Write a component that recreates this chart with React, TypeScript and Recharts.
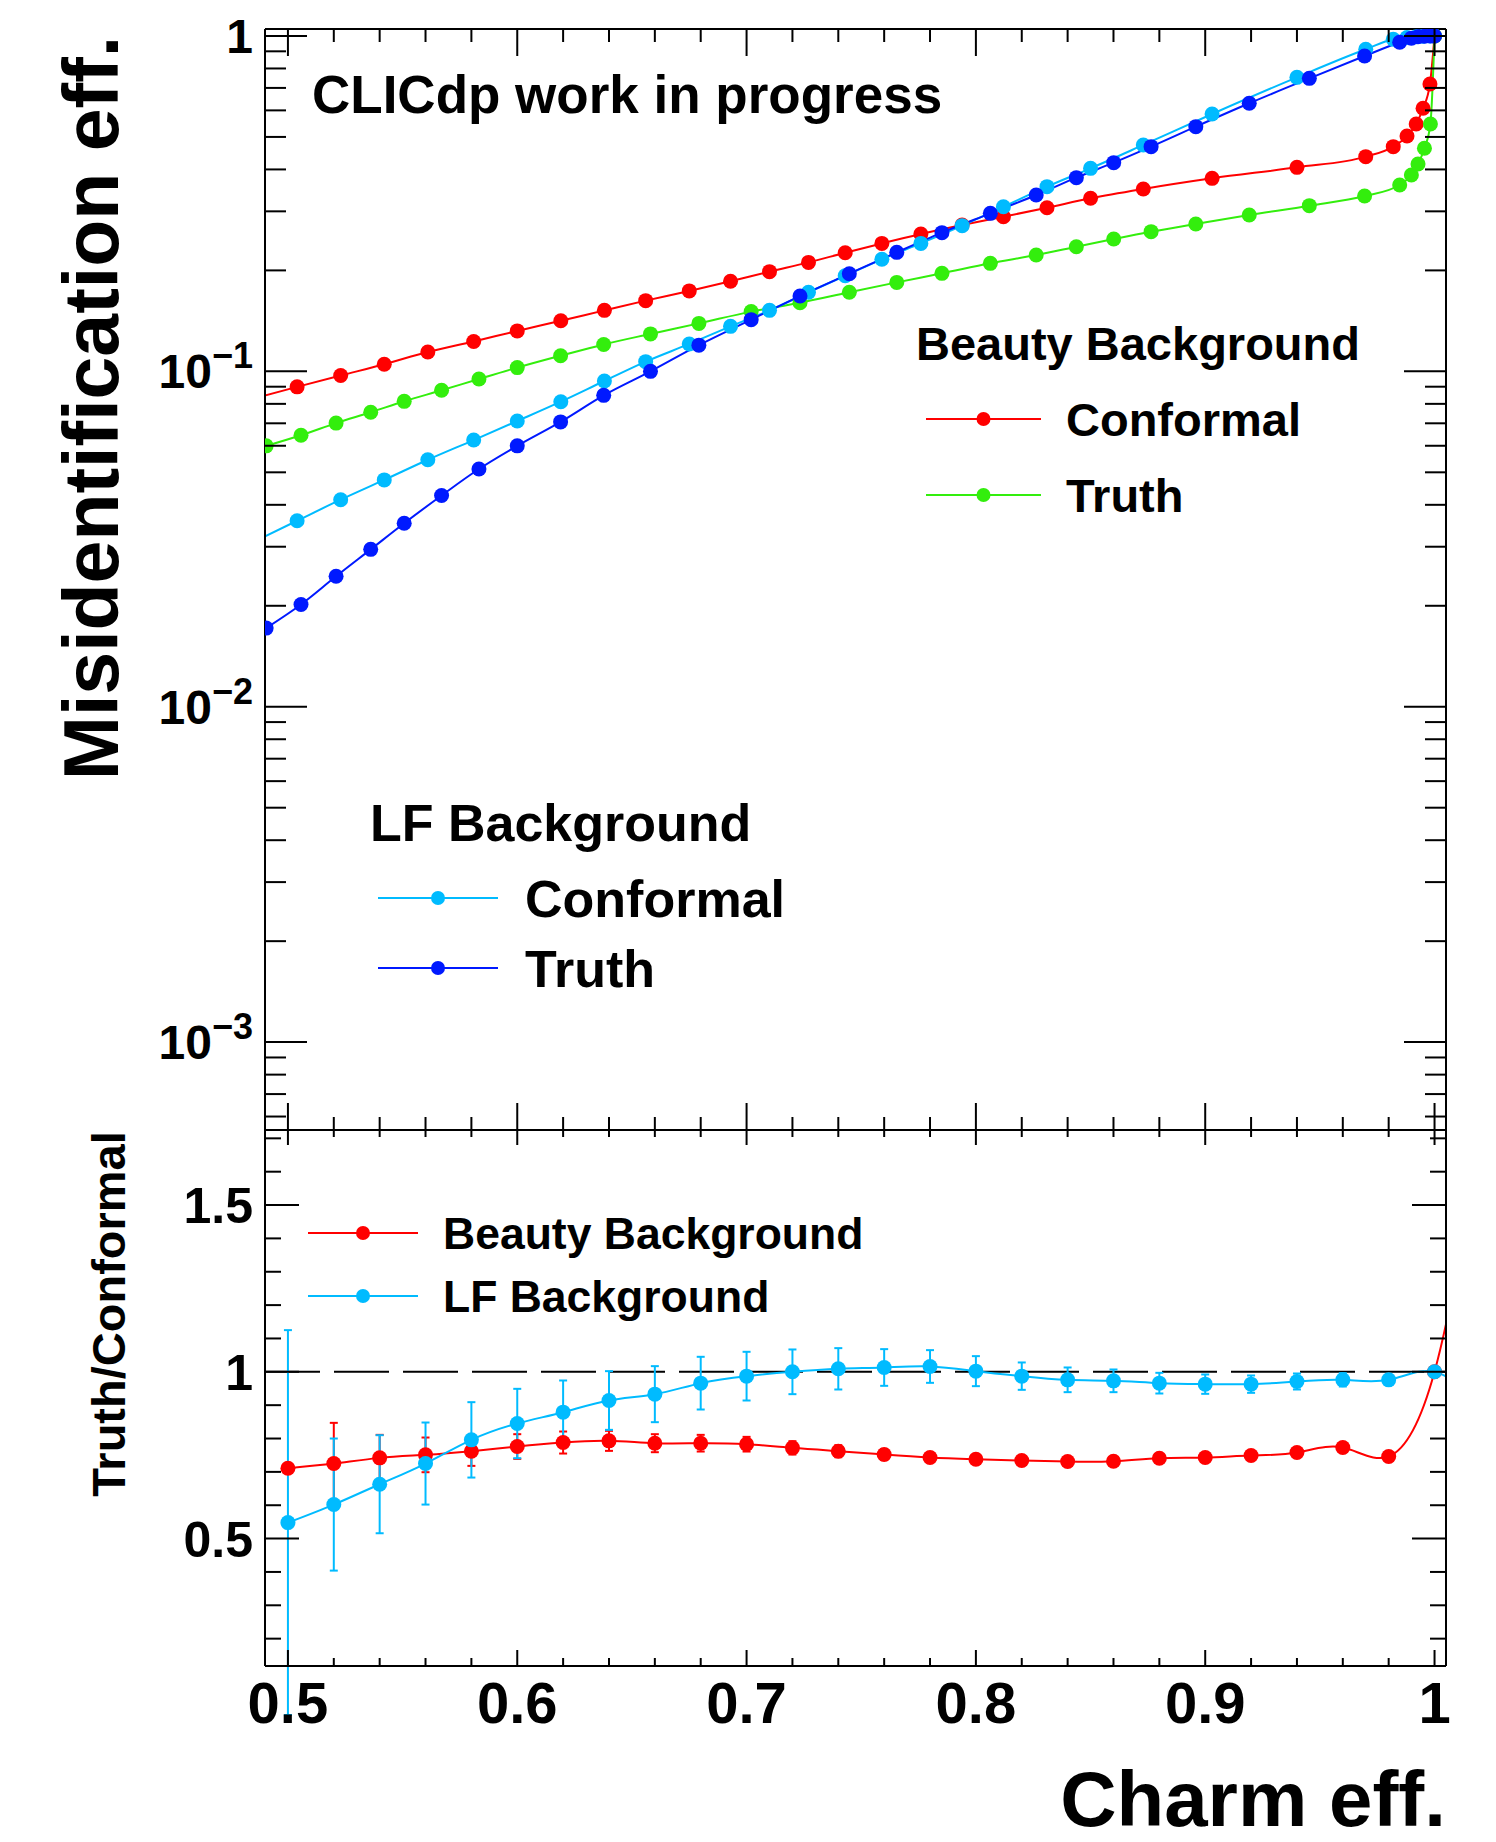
import React from 'react'
import { LineChart, Line, XAxis, YAxis, ErrorBar, ReferenceLine } from 'recharts'

const FONT = '"Liberation Sans", Arial, Helvetica, sans-serif'

// upper pad: misid. efficiency vs charm efficiency, conformal vertexing
const conformalEff = [0.485, 0.504, 0.523, 0.542, 0.561, 0.581, 0.6, 0.619, 0.638, 0.656, 0.675, 0.693, 0.71, 0.727, 0.743, 0.759, 0.776, 0.794, 0.812, 0.831, 0.85, 0.873, 0.903, 0.94, 0.97, 0.982, 0.988, 0.992, 0.995, 0.998, 1.0]
const beautyConformal = [0.083, 0.0899, 0.0972, 0.105, 0.1142, 0.1228, 0.132, 0.1415, 0.152, 0.1625, 0.1737, 0.1856, 0.1983, 0.2113, 0.2258, 0.2407, 0.2567, 0.2731, 0.2891, 0.3076, 0.3281, 0.3498, 0.3763, 0.4058, 0.4367, 0.4677, 0.503, 0.5465, 0.6086, 0.7194, 1.0]
const lfConformal = [0.031, 0.03585, 0.04143, 0.04746, 0.0545, 0.0624, 0.0711, 0.0812, 0.0936, 0.1069, 0.1207, 0.1362, 0.152, 0.1721, 0.1927, 0.2158, 0.2407, 0.2719, 0.3097, 0.3554, 0.403, 0.4732, 0.5853, 0.7527, 0.9126, 0.9774, 0.99, 0.995, 0.998, 1.0, 1.0]

// truth vertexing
const truthEff = [0.4905, 0.5057, 0.521, 0.5361, 0.5507, 0.567, 0.5833, 0.6, 0.6189, 0.6377, 0.6581, 0.6792, 0.702, 0.7233, 0.7448, 0.7655, 0.7852, 0.8063, 0.8263, 0.8438, 0.8601, 0.8764, 0.8959, 0.9192, 0.9454, 0.9695, 0.9848, 0.9899, 0.9928, 0.9956, 0.9982, 1.0]
const beautyTruth = [0.05996, 0.0645, 0.0701, 0.0755, 0.0814, 0.0878, 0.0949, 0.1026, 0.1113, 0.1203, 0.1293, 0.139, 0.1507, 0.1601, 0.1721, 0.1842, 0.196, 0.2099, 0.2223, 0.2353, 0.2481, 0.2609, 0.275, 0.2925, 0.3119, 0.3333, 0.3595, 0.385, 0.4151, 0.4624, 0.5465, 1.0]
const lfTruth = [0.01716, 0.02018, 0.02449, 0.02946, 0.03524, 0.04265, 0.05115, 0.05996, 0.07069, 0.0848, 0.1, 0.1197, 0.1426, 0.1677, 0.1955, 0.2264, 0.2592, 0.2959, 0.3355, 0.378, 0.419, 0.4677, 0.5366, 0.63, 0.7475, 0.8717, 0.9574, 0.985, 0.995, 0.998, 1.0, 1.0]

// lower pad: truth / conformal
const ratioEff = [0.5, 0.52, 0.54, 0.56, 0.58, 0.6, 0.62, 0.64, 0.66, 0.68, 0.7, 0.72, 0.74, 0.76, 0.78, 0.8, 0.82, 0.84, 0.86, 0.88, 0.9, 0.92, 0.94, 0.96, 0.98, 1.0, 1.02]
const beautyRatio = [0.711, 0.725, 0.742, 0.751, 0.762, 0.776, 0.788, 0.793, 0.786, 0.786, 0.783, 0.772, 0.762, 0.752, 0.743, 0.738, 0.734, 0.731, 0.732, 0.741, 0.743, 0.749, 0.758, 0.773, 0.746, 1.0, 1.7]
const beautyRatioErr = [0, 0.122, 0.069, 0.052, 0.044, 0.037, 0.033, 0.03, 0.027, 0.025, 0.022, 0.02, 0.018, 0.016, 0.013, 0.011, 0.01, 0.009, 0.008, 0.007, 0.006, 0.006, 0.005, 0.005, 0.004, 0, 0]
const lfRatio = [0.548, 0.602, 0.663, 0.725, 0.796, 0.845, 0.879, 0.914, 0.933, 0.966, 0.987, 1.0, 1.009, 1.013, 1.016, 1.002, 0.987, 0.976, 0.973, 0.966, 0.963, 0.963, 0.971, 0.976, 0.976, 1.0, 0.9]
const lfRatioErr = [0.577, 0.198, 0.147, 0.123, 0.113, 0.104, 0.095, 0.088, 0.084, 0.079, 0.073, 0.067, 0.062, 0.055, 0.049, 0.045, 0.041, 0.037, 0.034, 0.031, 0.029, 0.026, 0.024, 0.02, 0.015, 0.01, 0]

const xTicks = [0.5, 0.52, 0.54, 0.56, 0.58, 0.6, 0.62, 0.64, 0.66, 0.68, 0.7, 0.72, 0.74, 0.76, 0.78, 0.8, 0.82, 0.84, 0.86, 0.88, 0.9, 0.92, 0.94, 0.96, 0.98, 1.0]
const logTicks = [0.0006, 0.0007, 0.0008, 0.0009, 0.001, 0.002, 0.003, 0.004, 0.005, 0.006, 0.007, 0.008, 0.009, 0.01, 0.02, 0.03, 0.04, 0.05, 0.06, 0.07, 0.08, 0.09, 0.1, 0.2, 0.3, 0.4, 0.5, 0.6, 0.7, 0.8, 0.9, 1]
const ratioTicks = [0.2, 0.3, 0.4, 0.5, 0.6, 0.7, 0.8, 0.9, 1.0, 1.1, 1.2, 1.3, 1.4, 1.5, 1.6, 1.7]

const X_DOMAIN = [0.49, 1.005]
const LOG_DOMAIN = [0.000547, 1.049]
const RATIO_DOMAIN = [0.118, 1.725]

const RED = '#ff0000'
const GREEN = '#33ee0d'
const AZURE = '#00bbff'
const BLUE = '#0019ff'

const toPoints = (xs: number[], ys: number[]) => xs.map((x, i) => ({ x, y: ys[i] }))
const toRatio = (ys: number[], errs: number[]) => ratioEff.map((x, i) => ({ x, y: ys[i], err: errs[i] }))

const isMajorX = (v: number) => Math.round(v * 100) % 10 === 0
const isDecade = (v: number) => Math.abs(Math.log10(v) - Math.round(Math.log10(v))) < 1e-6
const isMajorRatio = (v: number) => Math.round(v * 10) % 5 === 0

const XTick = ({ x, y, payload, dir, major, minor, label }: any) => {
  const big = isMajorX(payload.value)
  return (
    <g>
      <line x1={x} x2={x} y1={y} y2={y + dir * (big ? major : minor)} stroke="#000" strokeWidth={2} />
      {label && big && (
        <text x={x} y={y + 57} textAnchor="middle" fontSize={58} fontWeight="bold" fontFamily={FONT} fill="#000">
          {payload.value === 1 ? '1' : payload.value.toFixed(1)}
        </text>
      )}
    </g>
  )
}

const LogTick = ({ x, y, payload, side }: any) => {
  const v = payload.value
  const big = isDecade(v)
  const e = Math.round(Math.log10(v))
  return (
    <g>
      <line x1={x} x2={x + side * (big ? 42 : 21)} y1={y} y2={y} stroke="#000" strokeWidth={2} />
      {side === 1 && big && (
        <text x={x - 12} y={y + 17} textAnchor="end" fontSize={48} fontWeight="bold" fontFamily={FONT} fill="#000">
          {e === 0 ? '1' : (
            <>
              <tspan>10</tspan>
              <tspan dy={-20} fontSize={36}>{`\u2212${-e}`}</tspan>
            </>
          )}
        </text>
      )}
    </g>
  )
}

const RatioTick = ({ x, y, payload, side }: any) => {
  const v = payload.value
  const big = isMajorRatio(v)
  return (
    <g>
      <line x1={x} x2={x + side * (big ? 34 : 16)} y1={y} y2={y} stroke="#000" strokeWidth={2} />
      {side === 1 && big && (
        <text x={x - 12} y={y + 18} textAnchor="end" fontSize={50} fontWeight="bold" fontFamily={FONT} fill="#000">
          {v === 1 ? '1' : v.toFixed(1)}
        </text>
      )}
    </g>
  )
}

const axisLine = { stroke: '#000', strokeWidth: 2 }

const LegendRow = ({ x1, x2, y, color, text, tx, fs }: any) => (
  <g>
    <line x1={x1} x2={x2} y1={y} y2={y} stroke={color} strokeWidth={2} />
    <circle cx={(x1 + x2) / 2} cy={y} r={7} fill={color} />
    <text x={tx} y={y + 0.358 * fs} fontSize={fs} fontWeight="bold" fontFamily={FONT} fill="#000">{text}</text>
  </g>
)

const seriesLine = (key: string, data: any[], color: string, type: any, children?: React.ReactNode) => (
  <Line
    key={key}
    xAxisId="b"
    yAxisId="l"
    data={data}
    dataKey="y"
    type={type}
    stroke={color}
    strokeWidth={2}
    dot={{ r: 7.5, fill: color, stroke: 'none' }}
    activeDot={false}
    isAnimationActive={false}
  >
    {children}
  </Line>
)

export default function App() {
  return (
    <div style={{ position: 'absolute', left: 0, top: 0, width: 1496, height: 1842, background: '#fff', fontFamily: FONT }}>
      <div style={{ position: 'absolute', left: 0, top: 0 }}>
        <LineChart width={1496} height={1140} margin={{ top: 0, right: 0, bottom: 0, left: 0 }}>
          <XAxis xAxisId="t" dataKey="x" orientation="top" type="number" domain={X_DOMAIN} allowDataOverflow height={29}
            ticks={xTicks} interval={0} tickSize={0} tickMargin={0} tickLine={false} axisLine={axisLine}
            tick={(p: any) => <XTick {...p} dir={1} major={27} minor={13} />} />
          <XAxis xAxisId="b" dataKey="x" orientation="bottom" type="number" domain={X_DOMAIN} allowDataOverflow height={10}
            ticks={xTicks} interval={0} tickSize={0} tickMargin={0} tickLine={false} axisLine={axisLine}
            tick={(p: any) => <XTick {...p} dir={-1} major={27} minor={13} />} />
          <YAxis yAxisId="l" orientation="left" type="number" scale="log" domain={LOG_DOMAIN} allowDataOverflow width={265}
            ticks={logTicks} interval={0} tickSize={0} tickMargin={0} tickLine={false} axisLine={axisLine}
            tick={(p: any) => <LogTick {...p} side={1} />} />
          <YAxis yAxisId="r" orientation="right" type="number" scale="log" domain={LOG_DOMAIN} allowDataOverflow width={50}
            ticks={logTicks} interval={0} tickSize={0} tickMargin={0} tickLine={false} axisLine={axisLine}
            tick={(p: any) => <LogTick {...p} side={-1} />} />
          {seriesLine('bc', toPoints(conformalEff, beautyConformal), RED, 'monotone')}
          {seriesLine('bt', toPoints(truthEff, beautyTruth), GREEN, 'monotone')}
          {seriesLine('lc', toPoints(conformalEff, lfConformal), AZURE, 'monotone')}
          {seriesLine('lt', toPoints(truthEff, lfTruth), BLUE, 'monotone')}
        </LineChart>
      </div>

      <div style={{ position: 'absolute', left: 0, top: 1100 }}>
        <LineChart width={1496} height={742} margin={{ top: 0, right: 0, bottom: 0, left: 0 }}>
          <XAxis xAxisId="t" dataKey="x" orientation="top" type="number" domain={X_DOMAIN} allowDataOverflow height={30}
            ticks={xTicks} interval={0} tickSize={0} tickMargin={0} tickLine={false} axisLine={axisLine}
            tick={(p: any) => <XTick {...p} dir={1} major={15} minor={7} />} />
          <XAxis xAxisId="b" dataKey="x" orientation="bottom" type="number" domain={X_DOMAIN} allowDataOverflow height={176}
            ticks={xTicks} interval={0} tickSize={0} tickMargin={0} tickLine={false} axisLine={axisLine}
            tick={(p: any) => <XTick {...p} dir={-1} major={16} minor={8} label />} />
          <YAxis yAxisId="l" orientation="left" type="number" domain={RATIO_DOMAIN} allowDataOverflow width={265}
            ticks={ratioTicks} interval={0} tickSize={0} tickMargin={0} tickLine={false} axisLine={axisLine}
            tick={(p: any) => <RatioTick {...p} side={1} />} />
          <YAxis yAxisId="r" orientation="right" type="number" domain={RATIO_DOMAIN} allowDataOverflow width={50}
            ticks={ratioTicks} interval={0} tickSize={0} tickMargin={0} tickLine={false} axisLine={axisLine}
            tick={(p: any) => <RatioTick {...p} side={-1} />} />
          <ReferenceLine xAxisId="b" yAxisId="l" y={1} stroke="#000" strokeWidth={2} strokeDasharray="55 14" />
          {seriesLine('br', toRatio(beautyRatio, beautyRatioErr), RED, 'natural',
            <ErrorBar dataKey="err" direction="y" width={4} stroke={RED} strokeWidth={2} />)}
          {seriesLine('lr', toRatio(lfRatio, lfRatioErr), AZURE, 'natural',
            <ErrorBar dataKey="err" direction="y" width={4} stroke={AZURE} strokeWidth={2} />)}
        </LineChart>
      </div>

      <svg width={1496} height={1842} style={{ position: 'absolute', left: 0, top: 0, pointerEvents: 'none' }}>
        <g fontFamily={FONT} fontWeight="bold" fill="#000">
          <text x={312} y={113} fontSize={53}>CLICdp work in progress</text>
          <text transform="translate(118,408) rotate(-90)" textAnchor="middle" fontSize={77}>Misidentification eff.</text>
          <text transform="translate(125,1314) rotate(-90)" textAnchor="middle" fontSize={47}>Truth/Conformal</text>
          <text x={1446} y={1826} textAnchor="end" fontSize={78}>Charm eff.</text>
          <text x={916} y={360} fontSize={47}>Beauty Background</text>
          <text x={370} y={841} fontSize={52}>LF Background</text>
        </g>
        <LegendRow x1={926} x2={1041} y={419} color={RED} text="Conformal" tx={1066} fs={47} />
        <LegendRow x1={926} x2={1041} y={495} color={GREEN} text="Truth" tx={1066} fs={47} />
        <LegendRow x1={378} x2={498} y={898} color={AZURE} text="Conformal" tx={525} fs={52} />
        <LegendRow x1={378} x2={498} y={968} color={BLUE} text="Truth" tx={525} fs={52} />
        <LegendRow x1={308} x2={418} y={1233} color={RED} text="Beauty Background" tx={443} fs={44.5} />
        <LegendRow x1={308} x2={418} y={1296} color={AZURE} text="LF Background" tx={443} fs={44.5} />
      </svg>
    </div>
  )
}
